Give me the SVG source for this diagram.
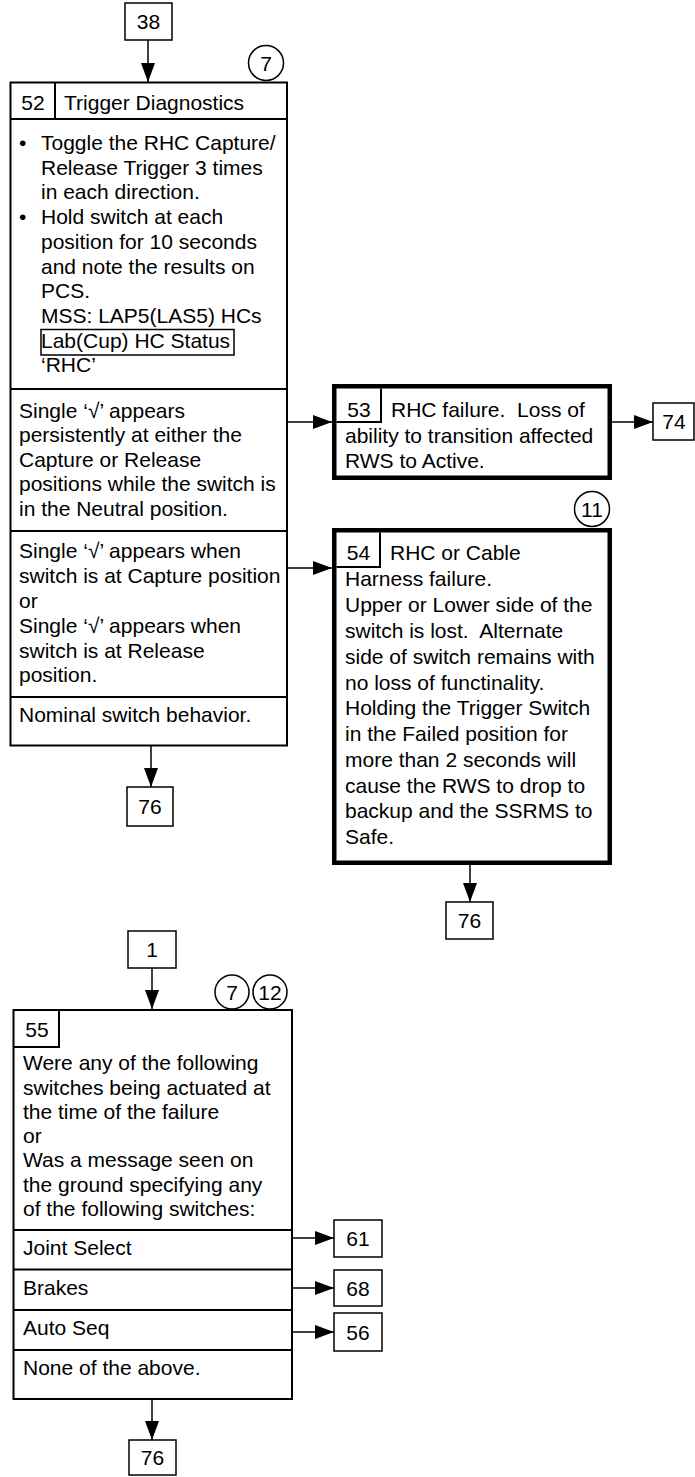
<svg xmlns="http://www.w3.org/2000/svg" width="695" height="1477" viewBox="0 0 695 1477">
<style>
text{font-family:"Liberation Sans",Arial,sans-serif;font-size:21px;fill:#000}
.c{text-anchor:middle}
.thin{fill:#fff;stroke:#000;stroke-width:1.5}
.box{fill:#fff;stroke:#000;stroke-width:2}
.thick{fill:#fff;stroke:#000;stroke-width:4.5}
.ln{fill:none;stroke:#000;stroke-width:2}
.conn{fill:none;stroke:#000;stroke-width:1.5;marker-end:url(#ah)}
.circ{fill:#fff;stroke:#000;stroke-width:1.5}
</style>
<defs>
<marker id="ah" markerUnits="userSpaceOnUse" markerWidth="19" markerHeight="14" refX="19" refY="7" orient="auto">
<path d="M0,0 L19,7 L0,14 Z" fill="#000"/>
</marker>
</defs>

<g id="connectors">
<line class="conn" x1="148" y1="40" x2="148" y2="82"/>
<line class="conn" x1="287" y1="422" x2="332" y2="422"/>
<line class="conn" x1="287" y1="568" x2="332" y2="568"/>
<line class="conn" x1="612" y1="422" x2="653" y2="422"/>
<line class="conn" x1="151" y1="746" x2="151" y2="787"/>
<line class="conn" x1="470" y1="865" x2="470" y2="902"/>
<line class="conn" x1="152" y1="968" x2="152" y2="1009"/>
<line class="conn" x1="292" y1="1238" x2="334" y2="1238"/>
<line class="conn" x1="292" y1="1288" x2="334" y2="1288"/>
<line class="conn" x1="292" y1="1332" x2="334" y2="1332"/>
<line class="conn" x1="152" y1="1399" x2="152" y2="1440"/>
</g>

<g id="node-38">
<rect class="thin" x="125" y="3" width="47" height="37"/>
<text class="c" x="148.5" y="29">38</text>
</g>

<g id="node-52">
<rect class="box" x="10.5" y="82.5" width="276.5" height="663"/>
<line class="ln" x1="10.5" y1="119" x2="287" y2="119"/>
<line class="ln" x1="55" y1="82.5" x2="55" y2="119"/>
<text class="c" x="33" y="110">52</text>
<text x="64" y="110">Trigger Diagnostics</text>
<text x="19" y="150">•</text>
<text x="41" y="150">Toggle the RHC Capture/</text>
<text x="41" y="174.7">Release Trigger 3 times</text>
<text x="41" y="199.4">in each direction.</text>
<text x="19" y="224.1">•</text>
<text x="41" y="224.1">Hold switch at each</text>
<text x="41" y="248.8">position for 10 seconds</text>
<text x="41" y="273.5">and note the results on</text>
<text x="41" y="298.2">PCS.</text>
<text x="41" y="322.9">MSS: LAP5(LAS5) HCs</text>
<rect x="41" y="329.5" width="193" height="25.5" fill="none" stroke="#000" stroke-width="1.5"/>
<text x="41" y="347.6">Lab(Cup) HC Status</text>
<text x="41" y="372.3">‘RHC’</text>
<line class="ln" x1="10.5" y1="389" x2="287" y2="389"/>
<text x="19" y="417.5">Single ‘√’ appears</text>
<text x="19" y="442">persistently at either the</text>
<text x="19" y="466.7">Capture or Release</text>
<text x="19" y="491.3">positions while the switch is</text>
<text x="19" y="516">in the Neutral position.</text>
<line class="ln" x1="10.5" y1="531" x2="287" y2="531"/>
<text x="19" y="558">Single ‘√’ appears when</text>
<text x="19" y="583">switch is at Capture position</text>
<text x="19" y="607.5">or</text>
<text x="19" y="632.5">Single ‘√’ appears when</text>
<text x="19" y="657.5">switch is at Release</text>
<text x="19" y="682">position.</text>
<line class="ln" x1="10.5" y1="697" x2="287" y2="697"/>
<text x="19" y="722">Nominal switch behavior.</text>
</g>

<g id="badge-7a">
<circle class="circ" cx="266" cy="63" r="17.5"/>
<text class="c" x="266" y="70.5">7</text>
</g>

<g id="node-53">
<rect class="thick" x="334.25" y="386.25" width="275.5" height="91.5"/>
<polyline class="ln" points="336.5,422 381,422 381,388.5" stroke-width="1.5"/>
<text class="c" x="359" y="417">53</text>
<text x="391" y="417" xml:space="preserve">RHC failure.  Loss of</text>
<text x="345" y="442.5">ability to transition affected</text>
<text x="345" y="468">RWS to Active.</text>
</g>

<g id="node-74">
<rect class="thin" x="653" y="403" width="41" height="37"/>
<text class="c" x="674" y="429">74</text>
</g>

<g id="badge-11">
<circle class="circ" cx="592" cy="509" r="17.5"/>
<text class="c" x="592" y="516.5">11</text>
</g>

<g id="node-54">
<rect class="thick" x="334.25" y="530.25" width="275.5" height="332.5"/>
<polyline class="ln" points="336.5,567 380,567 380,532.5" stroke-width="1.5"/>
<text class="c" x="358.5" y="560">54</text>
<text x="390" y="560">RHC or Cable</text>
<text x="345" y="586">Harness failure.</text>
<text x="345" y="612">Upper or Lower side of the</text>
<text x="345" y="638" xml:space="preserve">switch is lost.  Alternate</text>
<text x="345" y="664">side of switch remains with</text>
<text x="345" y="689.5">no loss of functinality.</text>
<text x="345" y="715">Holding the Trigger Switch</text>
<text x="345" y="741">in the Failed position for</text>
<text x="345" y="766.5">more than 2 seconds will</text>
<text x="345" y="792.5">cause the RWS to drop to</text>
<text x="345" y="818">backup and the SSRMS to</text>
<text x="345" y="844">Safe.</text>
</g>

<g id="node-76a">
<rect class="thin" x="127" y="787" width="46" height="39"/>
<text class="c" x="150" y="814">76</text>
</g>

<g id="node-76b">
<rect class="thin" x="446" y="902" width="47" height="37"/>
<text class="c" x="469.5" y="928">76</text>
</g>

<g id="node-1">
<rect class="thin" x="128" y="931" width="48" height="37"/>
<text class="c" x="152" y="957">1</text>
</g>

<g id="badge-7b">
<circle class="circ" cx="232" cy="992" r="17"/>
<text class="c" x="232" y="999.5">7</text>
</g>
<g id="badge-12">
<circle class="circ" cx="270" cy="992" r="17"/>
<text class="c" x="270" y="999.5">12</text>
</g>

<g id="node-55">
<rect class="box" x="13.5" y="1010" width="278.5" height="389"/>
<polyline class="ln" points="13.5,1047 59,1047 59,1010"/>
<text class="c" x="37" y="1037">55</text>
<text x="23" y="1070">Were any of the following</text>
<text x="23" y="1094.5">switches being actuated at</text>
<text x="23" y="1118.5">the time of the failure</text>
<text x="23" y="1143">or</text>
<text x="23" y="1167">Was a message seen on</text>
<text x="23" y="1192">the ground specifying any</text>
<text x="23" y="1216">of the following switches:</text>
<line class="ln" x1="13.5" y1="1230" x2="292" y2="1230"/>
<text x="23" y="1255">Joint Select</text>
<line class="ln" x1="13.5" y1="1269.5" x2="292" y2="1269.5"/>
<text x="23" y="1295">Brakes</text>
<line class="ln" x1="13.5" y1="1310" x2="292" y2="1310"/>
<text x="23" y="1335">Auto Seq</text>
<line class="ln" x1="13.5" y1="1350" x2="292" y2="1350"/>
<text x="23" y="1375">None of the above.</text>
</g>

<g id="node-61">
<rect class="thin" x="334" y="1220" width="48" height="37"/>
<text class="c" x="358" y="1246">61</text>
</g>
<g id="node-68">
<rect class="thin" x="334" y="1270" width="48" height="36"/>
<text class="c" x="358" y="1295.5">68</text>
</g>
<g id="node-56">
<rect class="thin" x="334" y="1313" width="48" height="38"/>
<text class="c" x="358" y="1339.5">56</text>
</g>

<g id="node-76c">
<rect class="thin" x="129" y="1440" width="47" height="35"/>
<text class="c" x="152.5" y="1465">76</text>
</g>
</svg>
